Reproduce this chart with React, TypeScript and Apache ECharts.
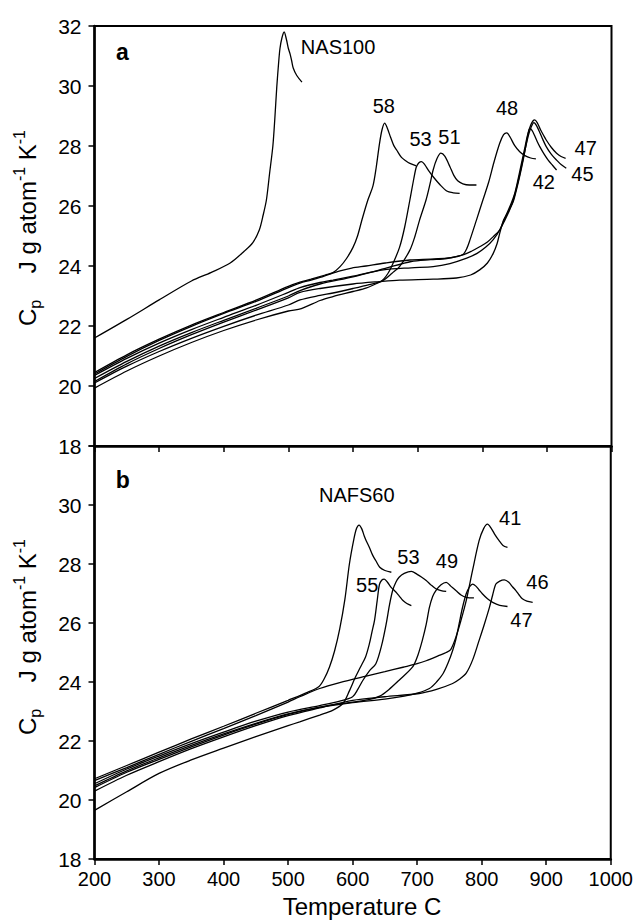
import React, { useEffect, useRef } from "react";
import * as echarts from "echarts";

const FONT = "'Liberation Sans', Arial, Helvetica, sans-serif";

// Temperature axis (C) and heat capacity axis (J g atom^-1 K^-1)
const tempMin = 200;
const tempMax = 1000;
const tempStep = 100;
const cpMin = 18;
const cpMax = 32;
const cpStep = 2;

// Panel a: NAS series
const nas100 = [[200,21.6],[250,22.22],[300,22.87],[350,23.5],[380,23.78],[410,24.1],[432,24.5],[445,24.78],[455,25.2],[461,25.7],[466,26.2],[471,27.1],[476,28.0],[479,28.9],[482,29.95],[485,30.8],[487,31.25],[490,31.6],[493.5,31.8],[497,31.55],[500,31.25],[502.5,31.08],[505,30.85],[507.5,30.6],[513,30.35],[521,30.13]];
const nas58 = [[200,20.45],[250,21.04],[300,21.56],[350,22.03],[400,22.45],[450,22.86],[500,23.32],[518,23.46],[535,23.56],[557,23.7],[569,23.78],[580,23.98],[590,24.25],[600,24.62],[607,25.0],[614,25.55],[623,26.2],[631,26.68],[636,27.3],[641,28.08],[645,28.55],[649,28.76],[653,28.6],[658,28.3],[663,28.02],[668,27.85],[675,27.62],[682,27.5],[688,27.42],[698,27.34]];
const nas53 = [[200,20.1],[250,20.66],[300,21.15],[350,21.59],[400,21.99],[450,22.36],[500,22.7],[518,22.87],[549,23.02],[569,23.1],[600,23.25],[625,23.38],[644,23.5],[654,23.75],[662,24.09],[672,24.62],[680,25.3],[688,26.2],[694,26.9],[698,27.3],[702,27.44],[706,27.48],[711,27.38],[717,27.18],[725,26.95],[735,26.7],[745,26.5],[755,26.44],[765,26.42]];
const nas51 = [[200,19.93],[250,20.5],[300,21.0],[350,21.45],[400,21.85],[450,22.2],[500,22.5],[520,22.58],[549,22.85],[569,22.98],[600,23.15],[621,23.27],[640,23.45],[649,23.55],[660,23.75],[672,23.98],[688,24.53],[696,25.0],[703,25.53],[713,26.2],[719,26.72],[724,27.2],[730,27.58],[736,27.76],[742,27.66],[750,27.31],[756,27.02],[762,26.84],[770,26.74],[780,26.7],[791,26.7]];
const nas48 = [[200,20.4],[250,20.99],[300,21.52],[350,21.99],[400,22.42],[450,22.82],[500,23.28],[518,23.43],[535,23.53],[549,23.62],[565,23.74],[580,23.84],[598,23.93],[620,24.0],[650,24.1],[688,24.2],[720,24.23],[745,24.26],[760,24.31],[770,24.38],[776,24.58],[781,24.87],[791,25.53],[801,26.2],[810,26.8],[818,27.45],[827,28.09],[833,28.38],[838,28.44],[843,28.3],[850,28.02],[858,27.81],[866,27.68],[875,27.6],[883,27.57]];
const nas47 = [[200,20.35],[250,20.92],[300,21.43],[350,21.88],[400,22.29],[450,22.69],[500,23.12],[518,23.28],[549,23.45],[569,23.53],[600,23.66],[647,23.87],[690,23.94],[724,23.98],[750,24.08],[776,24.26],[792,24.42],[806,24.64],[817,24.88],[827,25.2],[838,25.75],[845,26.1],[850,26.4],[855,26.85],[860,27.35],[865,27.85],[870,28.35],[875,28.7],[879,28.85],[881,28.87],[885,28.78],[890,28.55],[895,28.35],[899,28.2],[907,27.95],[915,27.76],[922,27.65],[929,27.59]];
const nas45 = [[200,20.25],[250,20.82],[300,21.33],[350,21.78],[400,22.19],[450,22.59],[500,23.0],[518,23.18],[549,23.4],[600,23.64],[650,23.92],[690,24.15],[720,24.21],[745,24.25],[770,24.37],[784,24.5],[796,24.64],[808,24.8],[817,24.98],[827,25.2],[835,25.53],[842,25.85],[848,26.2],[853,26.6],[858,27.05],[863,27.55],[868,28.05],[872,28.4],[876,28.65],[880,28.78],[884,28.68],[888,28.5],[893,28.25],[899,27.98],[907,27.72],[915,27.53],[922,27.38],[930,27.26]];
const nas42 = [[200,20.15],[250,20.74],[300,21.25],[350,21.71],[400,22.13],[450,22.53],[500,22.94],[518,23.12],[549,23.25],[600,23.4],[641,23.48],[672,23.53],[724,23.56],[760,23.6],[782,23.7],[796,23.87],[808,24.1],[817,24.42],[823,24.75],[827,25.09],[833,25.53],[840,25.8],[848,26.15],[853,26.55],[858,27.0],[863,27.5],[867,27.95],[870,28.3],[873.5,28.59],[877,28.52],[881,28.35],[885,28.15],[889,27.98],[896,27.72],[902,27.53],[909,27.35],[915,27.2]];

// Panel b: NAFS series
const nafs60 = [[200,20.72],[250,21.17],[300,21.62],[350,22.07],[400,22.5],[450,22.94],[500,23.38],[530,23.65],[548,23.85],[556,24.11],[564,24.5],[572,25.05],[580,25.8],[588,26.8],[595,28.0],[602,28.85],[606,29.2],[610,29.32],[614,29.2],[618,28.95],[621,28.79],[626,28.56],[631,28.3],[636,28.11],[642,27.89],[650,27.78],[660,27.72]];
const nafs41 = [[200,20.66],[250,21.1],[300,21.55],[350,21.99],[400,22.42],[450,22.86],[500,23.32],[518,23.5],[549,23.78],[580,23.98],[621,24.2],[650,24.35],[678,24.5],[700,24.62],[714,24.72],[734,24.9],[745,25.0],[752,25.1],[760,25.52],[768,26.1],[776,26.76],[786,27.8],[796,28.79],[803,29.2],[809,29.35],[815,29.2],[821,28.98],[827,28.79],[833,28.63],[840,28.56]];
const nafs55 = [[200,19.65],[250,20.28],[300,20.9],[350,21.36],[400,21.76],[450,22.15],[500,22.52],[518,22.65],[549,22.88],[569,23.04],[585,23.27],[595,23.7],[604,24.15],[612,24.5],[620,24.85],[626,25.3],[630,25.7],[634,26.1],[638,26.75],[641.5,27.3],[645,27.45],[649,27.49],[654,27.38],[660,27.2],[667,27.05],[672,26.92],[678,26.76],[684,26.66],[691,26.59]];
const nafs53 = [[200,20.55],[250,21.05],[300,21.49],[350,21.91],[400,22.3],[450,22.67],[500,22.98],[549,23.2],[580,23.35],[600,23.5],[608,23.75],[616,24.06],[626,24.38],[636,24.62],[645,25.25],[652,25.97],[657,26.6],[662,27.1],[667,27.38],[672,27.55],[680,27.68],[691,27.75],[700,27.65],[707,27.55],[714,27.44],[721,27.3],[729,27.16],[737,27.1],[745,27.07]];
const nafs49 = [[200,20.48],[250,20.99],[300,21.43],[350,21.85],[400,22.24],[450,22.6],[500,22.92],[549,23.15],[600,23.32],[625,23.4],[642,23.52],[656,23.74],[672,24.06],[693,24.51],[701,24.9],[708,25.41],[714,25.95],[719,26.53],[724,26.9],[729,27.1],[737,27.3],[745,27.38],[752,27.25],[760,27.1],[768,26.95],[776,26.87],[788,26.85]];
const nafs47 = [[200,20.42],[250,20.94],[300,21.38],[350,21.8],[400,22.2],[450,22.57],[500,22.9],[549,23.14],[600,23.3],[650,23.42],[680,23.52],[700,23.62],[719,23.78],[730,24.0],[740,24.28],[748,24.65],[755,25.07],[760,25.45],[765,25.97],[770,26.5],[776,26.99],[781,27.22],[786,27.32],[791,27.25],[796,27.12],[801,26.99],[809,26.82],[817,26.7],[828,26.6],[840,26.56]];
const nafs46 = [[200,20.3],[250,20.84],[300,21.3],[350,21.74],[400,22.14],[450,22.52],[500,22.86],[549,23.12],[600,23.38],[650,23.5],[703,23.61],[730,23.75],[755,23.95],[766,24.1],[776,24.3],[786,24.75],[796,25.41],[804,25.95],[812,26.53],[817,26.95],[822,27.32],[828,27.42],[835,27.46],[842,27.38],[848,27.22],[853,27.1],[858,26.95],[863,26.82],[870,26.74],[879,26.7]];

const curvesA = [nas100, nas58, nas53, nas51, nas48, nas47, nas45, nas42];
const curvesB = [nafs60, nafs41, nafs55, nafs53, nafs49, nafs47, nafs46];

// Curve annotations: [text, temperature, Cp]
const labelsA: [string, number, number][] = [
  ["58", 647.7, 29.33], ["53", 704.5, 28.22], ["51", 749.3, 28.31], ["48", 838.4, 29.26],
  ["47", 960, 27.94], ["45", 955, 27.07], ["42", 895.2, 26.81],
];
const seriesNameA: [string, number, number] = ["NAS100", 519.3, 31.3];
const labelsB: [string, number, number][] = [
  ["NAFS60", 606.4, 30.34], ["41", 844.1, 29.57], ["53", 686.4, 28.25], ["49", 746.2, 28.09],
  ["55", 622.5, 27.3], ["46", 886.4, 27.38], ["47", 861.6, 26.11],
];
const tagA: [string, number, number] = ["a", 243, 31.13];
const tagB: [string, number, number] = ["b", 244, 30.85];

const axisLineStyle = { color: "#000", width: 2.5 };

function lineSeries(data: number[][], idx: number) {
  return {
    type: "line",
    xAxisIndex: idx,
    yAxisIndex: idx,
    data,
    showSymbol: false,
    symbol: "none",
    smooth: 0.3,
    lineStyle: { color: "#000", width: 1.3 },
    silent: true,
  };
}

function labelSeries(items: [string, number, number][], idx: number, align: string, fontSize: number, bold = false) {
  return {
    type: "scatter",
    xAxisIndex: idx,
    yAxisIndex: idx,
    symbolSize: 0,
    silent: true,
    itemStyle: { opacity: 1, color: "#000" },
    data: items.map(([t, x, y]) => ({ value: [x, y], name: t })),
    label: {
      show: true,
      position: "inside",
      formatter: (p: any) => p.name,
      color: "#000",
      opacity: 1,
      textBorderWidth: 0,
      fontFamily: FONT,
      fontSize,
      fontWeight: bold ? "bold" : "normal",
      align,
      verticalAlign: "middle",
    },
  };
}

function yTitle(cx: number, cy: number) {
  return {
    type: "text",
    x: cx,
    y: cy,
    rotation: Math.PI / 2,
    style: {
      text: "{m|C}{s|p}{m|    J g atom}{u|-1}{m| K}{u|-1}",
      align: "center",
      verticalAlign: "middle",
      fill: "#000",
      rich: {
        m: { fontSize: 24, fontFamily: FONT, lineHeight: 32, verticalAlign: "middle", fill: "#000" },
        s: { fontSize: 16, fontFamily: FONT, lineHeight: 32, verticalAlign: "bottom", fill: "#000" },
        u: { fontSize: 16, fontFamily: FONT, lineHeight: 32, verticalAlign: "top", fill: "#000" },
      },
    },
  };
}

export default function App() {
  const ref = useRef<HTMLDivElement>(null);
  useEffect(() => {
    document.body.style.margin = "0";
    if (!ref.current) return;
    const chart = echarts.init(ref.current, undefined, { renderer: "svg" });
    const tickLabel = { color: "#000", fontFamily: FONT, fontSize: 20 };
    const xBase = {
      type: "value",
      min: tempMin,
      max: tempMax,
      interval: tempStep,
      axisLine: { onZero: false, lineStyle: axisLineStyle },
      axisTick: { inside: false, length: 6, lineStyle: { color: "#000", width: 1.5 } },
      splitLine: { show: false },
    };
    const yBase = {
      type: "value",
      min: cpMin,
      max: cpMax,
      interval: cpStep,
      axisLine: { onZero: false, lineStyle: axisLineStyle },
      axisTick: { inside: false, length: 6, lineStyle: { color: "#000", width: 1.5 } },
      splitLine: { show: false },
    };
    chart.setOption({
      animation: false,
      backgroundColor: "#fff",
      grid: [
        { left: 94.5, top: 26, width: 517, height: 420, show: true, borderColor: "#000", borderWidth: 2 },
        { left: 94.5, top: 446, width: 517, height: 413, show: true, borderColor: "#000", borderWidth: 2 },
      ],
      xAxis: [
        { ...xBase, gridIndex: 0, axisLabel: { show: false } },
        { ...xBase, gridIndex: 1, axisLabel: { ...tickLabel, margin: 10, formatter: (v: number) => String(v) } },
      ],
      yAxis: [
        { ...yBase, gridIndex: 0, axisLabel: { ...tickLabel, fontSize: 21, margin: 13, formatter: (v: number) => String(v) } },
        {
          ...yBase,
          gridIndex: 1,
          axisLabel: { ...tickLabel, fontSize: 21, margin: 13, formatter: (v: number) => (v === cpMax ? "" : String(v)) },
        },
      ],
      graphic: [
        yTitle(27, 228),
        yTitle(27, 637),
        {
          type: "text",
          x: 362,
          y: 906,
          style: { text: "Temperature C", fontFamily: FONT, fontSize: 24, fill: "#000", align: "center", verticalAlign: "middle" },
        },
      ],
      series: [
        ...curvesA.map((d) => lineSeries(d, 0)),
        ...curvesB.map((d) => lineSeries(d, 1)),
        labelSeries(labelsA, 0, "center", 20),
        labelSeries([seriesNameA], 0, "left", 20),
        labelSeries(labelsB, 1, "center", 20),
        labelSeries([tagA], 0, "center", 23, true),
        labelSeries([tagB], 1, "center", 23, true),
      ],
    });
    return () => chart.dispose();
  }, []);
  return <div ref={ref} style={{ width: 636, height: 923 }} />;
}
